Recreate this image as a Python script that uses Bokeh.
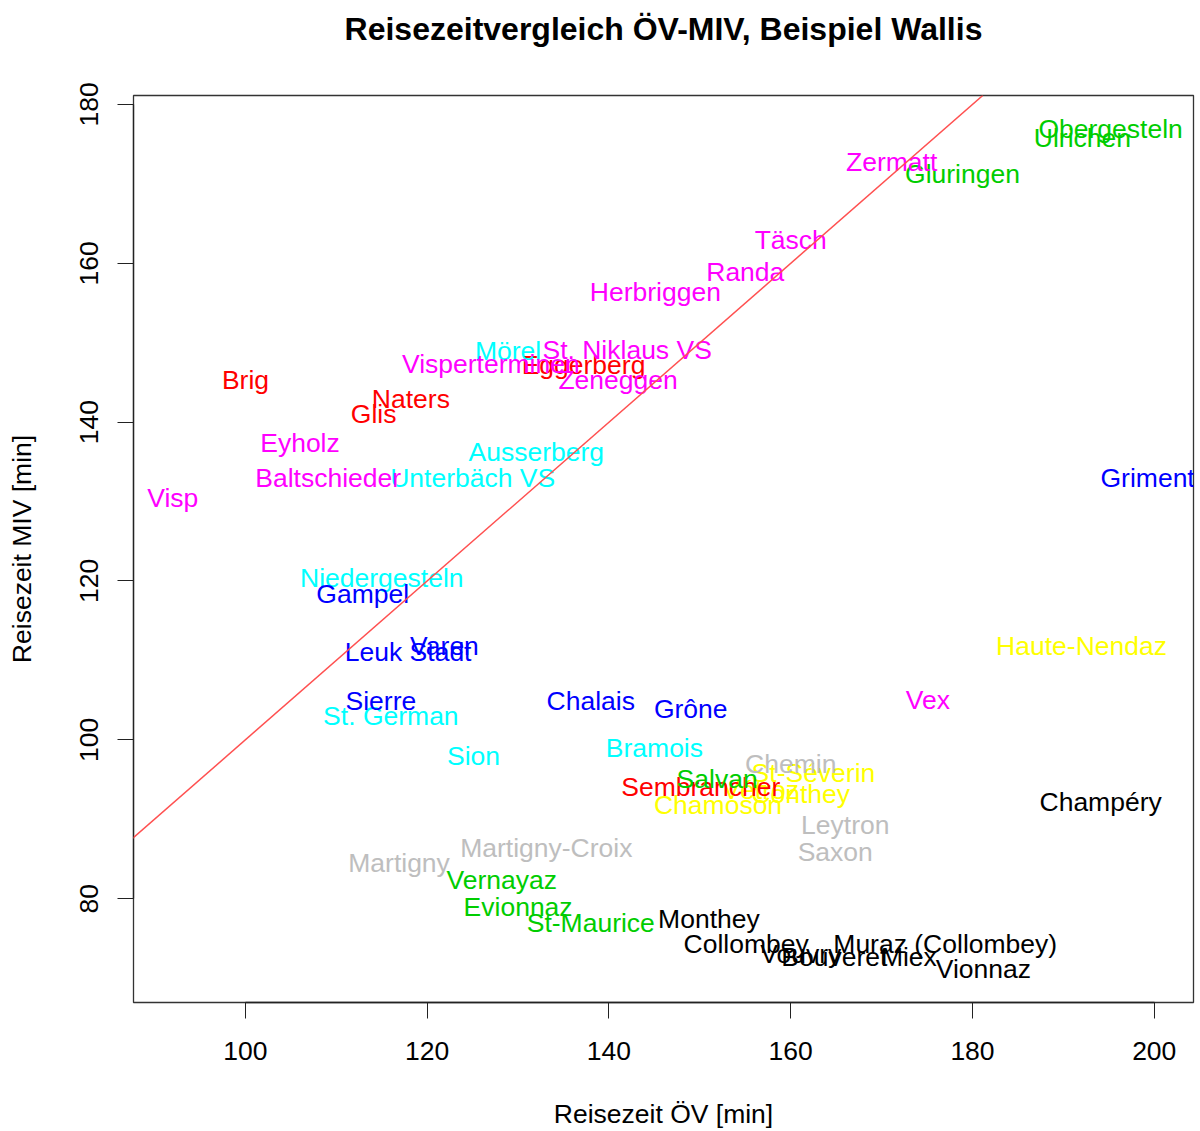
from bokeh.plotting import figure
from bokeh.models import ColumnDataSource, Range1d, Slope, FixedTicker, Title
from bokeh.embed import file_html
from bokeh.resources import INLINE
from bokeh.core.properties import value

# R's classic palette (recycled per district)
palette = ["#000000", "#FF0000", "#00CD00", "#0000FF", "#00FFFF", "#FF00FF", "#FFFF00", "#BEBEBE"]

# place names, travel time public transport (OV) and car (MIV), palette index
names = [
    "Obergesteln", "Ulrichen", "Gluringen",
    "Brig", "Naters", "Glis", "Eggerberg",
    "Mörel", "Ausserberg", "Unterbäch VS", "Niedergesteln", "St. German",
    "Visp", "Baltschieder", "Eyholz", "Visperterminen", "St. Niklaus VS", "Zeneggen",
    "Herbriggen", "Randa", "Täsch", "Zermatt",
    "Gampel", "Leuk Stadt", "Varen",
    "Sierre", "Chalais", "Grône", "Grimentz",
    "Sion", "Bramois",
    "Vex",
    "Haute-Nendaz", "St-Séverin", "Vétroz", "Conthey", "Chamoson",
    "Chemin", "Leytron", "Saxon", "Martigny", "Martigny-Croix",
    "Sembrancher",
    "Salvan", "Vernayaz", "Evionnaz", "St-Maurice",
    "Monthey", "Collombey", "Muraz (Collombey)", "Vouvry", "Bouveret", "Miex", "Vionnaz", "Champéry",
]
ov = [
    195.2, 192.1, 178.9,
    100.0, 118.2, 114.1, 137.2,
    128.9, 132.0, 125.0, 115.0, 116.0,
    92.0, 109.1, 106.0, 127.0, 142.0, 141.0,
    145.1, 155.0, 160.0, 171.1,
    112.9, 117.9, 121.9,
    114.9, 138.0, 149.0, 200.0,
    125.1, 145.0,
    175.1,
    192.0, 162.5, 156.7, 161.1, 152.0,
    160.0, 166.0, 164.9, 116.9, 133.1,
    150.1,
    151.9, 128.2, 130.0, 138.0,
    151.0, 155.1, 177.0, 161.1, 164.8, 173.0, 181.2, 194.1,
]
miv = [
    176.9, 175.8, 171.2,
    145.3, 142.9, 141.0, 147.2,
    148.9, 136.2, 133.0, 120.4, 103.0,
    130.4, 133.0, 137.4, 147.3, 149.1, 145.3,
    156.4, 158.9, 162.9, 172.8,
    118.4, 111.1, 111.8,
    104.9, 104.9, 103.9, 133.0,
    98.0, 99.0,
    105.0,
    111.8, 95.8, 93.7, 93.2, 91.8,
    96.9, 89.3, 85.9, 84.5, 86.4,
    94.0,
    95.1, 82.4, 79.0, 76.9,
    77.4, 74.3, 74.3, 73.0, 72.7, 72.7, 71.1, 92.2,
]
district = [
    2, 2, 2,
    1, 1, 1, 1,
    4, 4, 4, 4, 4,
    5, 5, 5, 5, 5, 5,
    5, 5, 5, 5,
    3, 3, 3,
    3, 3, 3, 3,
    4, 4,
    5,
    6, 6, 6, 6, 6,
    7, 7, 7, 7, 7,
    1,
    2, 2, 2, 2,
    0, 0, 0, 0, 0, 0, 0, 0,
]

x_ticks = [100, 120, 140, 160, 180, 200]
y_ticks = [80, 100, 120, 140, 160, 180]
title_text = "Reisezeitvergleich ÖV-MIV, Beispiel Wallis"

src = ColumnDataSource(dict(ov=ov, miv=miv, name=names,
                            color=[palette[d] for d in district]))

FONT = "Liberation Sans"
FS = "26.5px"

p = figure(width=1195, height=1131, output_backend="svg", toolbar_location=None,
           x_range=Range1d(87.68, 204.32), y_range=Range1d(66.92, 181.13),
           min_border_left=133, min_border_right=2, min_border_top=95, min_border_bottom=128)

# spacer (white on white) right above the frame, then the actual title above it
p.add_layout(Title(text=" ", text_font_size="10px", standoff=34, text_color="white"), "above")
p.add_layout(Title(text=title_text, align="center", vertical_align="top", standoff=0,
                   text_font=FONT, text_font_size="32px", text_font_style="bold",
                   text_color="black"), "above")

p.xgrid.grid_line_color = None
p.ygrid.grid_line_color = None
p.outline_line_color = "#333333"
p.outline_line_width = 1.3
p.background_fill_color = "white"
p.border_fill_color = "white"

for ax, ticks, bnd in ((p.xaxis[0], x_ticks, (100, 200)), (p.yaxis[0], y_ticks, (80, 180))):
    ax.ticker = FixedTicker(ticks=ticks)
    ax.bounds = bnd
    ax.axis_line_color = "#222222"
    ax.axis_line_width = 1.3
    ax.major_tick_in = 0
    ax.major_tick_out = 16
    ax.major_tick_line_color = "#222222"
    ax.minor_tick_line_color = None
    ax.major_label_text_font = FONT
    ax.major_label_text_font_size = FS
    ax.major_label_text_color = "black"
    ax.axis_label_text_font = FONT
    ax.axis_label_text_font_size = FS
    ax.axis_label_text_font_style = "normal"
    ax.axis_label_text_color = "black"

p.xaxis.axis_label = "Reisezeit ÖV [min]"
p.yaxis.axis_label = "Reisezeit MIV [min]"
p.xaxis.major_label_standoff = 23
p.xaxis.axis_label_standoff = 36
p.yaxis.major_label_orientation = "vertical"
p.yaxis.major_label_standoff = 19
p.yaxis.axis_label_standoff = 41

p.add_layout(Slope(gradient=1, y_intercept=0, line_color="#FF5050", line_width=1.5))

p.text(x="ov", y="miv", text="name", text_color="color", source=src,
       text_align="center", text_baseline="middle",
       text_font=value(FONT), text_font_size=value(FS))

open("out.html", "w").write(file_html(p, INLINE))
